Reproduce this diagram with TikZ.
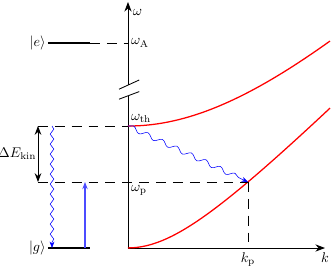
\documentclass[tikz,border=0pt]{standalone}
\usetikzlibrary{arrows.meta,decorations.pathmorphing}
\tikzset{
    axis/.style={semithick, -{Stealth[length=2.4mm]}},
    guide/.style={thin, dash pattern=on 7pt off 5pt},
    levelline/.style={line width=1.1pt},
    branch/.style={red, line width=0.9pt, domain=0:5.05, samples=100},
    photon/.style={blue, thin, -{Stealth[length=1.6mm]}, decorate,
        decoration={snake, amplitude=0.45mm, segment length=2.5mm, post length=1mm}},
    pump/.style={blue!70, line width=0.8pt, -{Stealth[length=1.8mm]}}
}
\begin{document}
\begin{tikzpicture}
    \useasboundingbox (-3.2,-0.425) rectangle (5.1,6.2);
    % 特征点
    \coordinate (O) at (0,0);
    \coordinate (wA) at (0,5.125);
    \coordinate (wth) at (0,3.05);
    \coordinate (wp) at (0,1.65);
    \coordinate (kp) at (3,0);
    \coordinate (P) at (3,1.65);

    % 绘制坐标轴
    \draw[axis] (O) -- (4.925,0) coordinate (kend);
    \draw[semithick] (O) -- (0,3.8);
    \draw[axis] (0,4.07) -- (0,6.15) coordinate (wend);
    \draw[semithick] (-0.225,3.97) -- (0.28,4.2);
    \draw[semithick] (-0.225,3.72) -- (0.28,3.91);
    \node[below] (klab) at (kend) {$k$};
    \node[right] (wlab) at (0,5.9) {$\omega$};

    % 能级
    \draw[levelline] (-2,5.125) coordinate (e0) -- (-0.95,5.125) coordinate (e1);
    \draw[guide] (e1) -- (wA);
    \node[left, inner sep=1.5pt] (elab) at (e0) {$|e\rangle$};
    \draw[levelline] (-2,0) coordinate (g0) -- (-0.95,0) coordinate (g1);
    \node[left, inner sep=1.5pt] (glab) at (g0) {$|g\rangle$};
    \node[right, inner sep=2pt] (wAlab) at (wA) {$\omega_{\mathrm{A}}$};

    % 色散曲线
    \draw[branch] plot (\x, {sqrt(3.62+\x*\x)-1.9});
    \draw[branch] plot (\x, {3.05+sqrt(24.4+\x*\x)-4.94});

    % 辅助虚线
    \draw[guide] (-2.25,3.05) coordinate (th0) -- (wth);
    \draw[guide] (-2.25,1.65) coordinate (p0) -- (P);
    \draw[guide] (P) -- (kp);
    \node[above right, inner sep=2pt] (wthlab) at (wth) {$\omega_{\mathrm{th}}$};
    \node[below right, inner sep=2pt] (wplab) at (wp) {$\omega_{\mathrm{p}}$};
    \node[below] (kplab) at (kp) {$k_{\mathrm{p}}$};

    % 动能差
    \draw[semithick, {Stealth[length=2.2mm]}-{Stealth[length=2.2mm]}] (th0) -- (p0);
    \node[left, inner sep=1pt] (dElab) at (-2.25,2.35) {$\Delta E_{\mathrm{kin}}$};

    % 跃迁
    \draw[photon] (-1.9,3.05) -- (-1.9,0);
    \draw[pump] (-1.075,0) -- (-1.075,1.65);
    \draw[photon, decoration={segment length=4mm, amplitude=0.6mm}] (wth) -- (P);
\end{tikzpicture}
\end{document}
